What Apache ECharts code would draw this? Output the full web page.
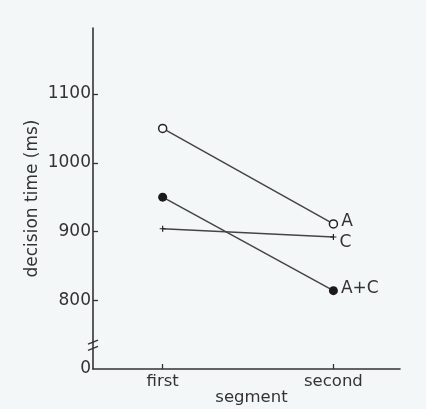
<!DOCTYPE html>
<html>
<head>
<meta charset="utf-8">
<script src="https://cdn.jsdelivr.net/npm/echarts@6/dist/echarts.min.js"></script>
<style>
  html, body { margin: 0; padding: 0; background: #f4f7f8; }
  #main { width: 426px; height: 409px; }
</style>
</head>
<body>
<div id="main"></div>
<script>
// segments on the x axis (positions 1 and 2)
const segments = ['first', 'second'];
// decision times (ms)
const seriesA = [1050, 911];
const seriesC = [904, 892];
const seriesAC = [950, 814];
// y tick labels; 700 sits at the broken axis and reads as 0
const yTicks = [700, 800, 900, 1000, 1100];

const textColor = '#333333';
const lineColor = '#444444';
const font = 'DejaVu Sans';

const toPoints = vals => vals.map((v, i) => [i + 1, v]);

const chartDom = document.getElementById('main');
const myChart = echarts.init(chartDom);

const makeSeries = (name, vals, symbol, size, fill, labelOffset) => ({
  name: name,
  type: 'line',
  data: toPoints(vals),
  symbol: symbol,
  symbolSize: size,
  showAllSymbol: true,
  lineStyle: { color: lineColor, width: 1.5 },
  itemStyle: { color: fill, borderColor: '#222', borderWidth: fill === '#ffffff' ? 1.5 : 0 },
  label: {
    show: true,
    position: 'right',
    distance: 3,
    offset: labelOffset,
    color: textColor,
    fontFamily: font,
    fontSize: 17,
    formatter: p => (p.dataIndex === vals.length - 1 ? name : '')
  },
  emphasis: { disabled: true },
  z: 3
});

const option = {
  backgroundColor: '#f4f7f8',
  animation: false,
  // keep the grid where it is; ECharts 6 would otherwise shrink it to fit the names
  grid: { left: 93, right: 26, top: 28, bottom: 40, outerBoundsMode: 'none' },
  xAxis: {
    type: 'value',
    min: 0.592,
    max: 2.39,
    name: 'segment',
    nameLocation: 'middle',
    nameGap: 20,
    nameMoveOverlap: false,
    nameTextStyle: { color: textColor, fontFamily: font, fontSize: 16.5, padding: [0, 0, 0, 10] },
    axisLine: { show: true, onZero: false, lineStyle: { color: '#333', width: 1.6 } },
    axisTick: { show: true, inside: true, length: 5, customValues: [1, 2], lineStyle: { color: '#333', width: 1.3 } },
    axisLabel: {
      customValues: [1, 2],
      margin: 4,
      color: textColor,
      fontFamily: font,
      fontSize: 16.5,
      formatter: v => segments[Math.round(v) - 1] || ''
    },
    splitLine: { show: false }
  },
  yAxis: {
    type: 'value',
    min: 700,
    max: 1196,
    name: 'decision time (ms)',
    nameLocation: 'middle',
    nameGap: 52,
    nameMoveOverlap: false,
    nameTextStyle: { color: textColor, fontFamily: font, fontSize: 17 },
    axisLine: { show: true, onZero: false, lineStyle: { color: '#333', width: 1.6 } },
    axisTick: { show: true, inside: true, length: 5, customValues: yTicks.slice(1), lineStyle: { color: '#333', width: 1.3 } },
    axisLabel: {
      customValues: yTicks,
      margin: 2,
      color: textColor,
      fontFamily: font,
      fontSize: 17,
      formatter: v => (v === 700 ? '0' : String(v))
    },
    splitLine: { show: false }
  },
  series: [
    makeSeries('A', seriesA, 'circle', 8, '#ffffff', [0, -2]),
    makeSeries('C', seriesC, 'path://M2,0H3V2H5V3H3V5H2V3H0V2H2Z', 6, '#222', [0, 6]),
    makeSeries('A+C', seriesAC, 'circle', 9, '#1a1a1a', [0, -2])
  ]
};

myChart.setOption(option);

// axis break marks "//" on the y axis
const p1 = myChart.convertToPixel({ gridIndex: 0 }, [0.592, 739]);
const p2 = myChart.convertToPixel({ gridIndex: 0 }, [0.592, 730]);
myChart.setOption({
  graphic: [p1, p2].map(p => ({
    type: 'line',
    shape: { x1: p[0] - 5, y1: p[1] + 2, x2: p[0] + 5, y2: p[1] - 2 },
    style: { stroke: '#333', lineWidth: 1.4 },
    z: 11
  }))
});
</script>
</body>
</html>
